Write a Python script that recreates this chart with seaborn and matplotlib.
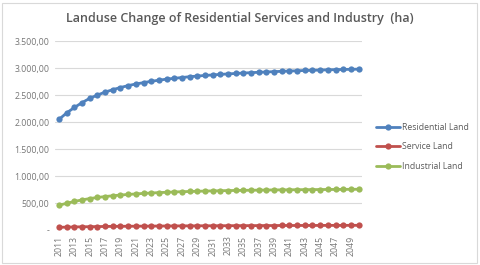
import numpy as np
import pandas as pd
import seaborn as sns
import matplotlib.pyplot as plt
from matplotlib.ticker import FuncFormatter
from matplotlib.patches import Rectangle

sns.set_style("white")
plt.rcParams['font.family'] = ['Open Sans', 'DejaVu Sans']

years = list(range(2011, 2051))
residential = [2050, 2170, 2270, 2360, 2440, 2500, 2555, 2600, 2640, 2675,
               2705, 2730, 2755, 2775, 2795, 2810, 2825, 2840, 2852, 2863,
               2873, 2883, 2892, 2900, 2908, 2915, 2922, 2928, 2934, 2940,
               2945, 2950, 2955, 2959, 2963, 2967, 2971, 2974, 2977, 2980]
service = [50, 54, 57, 60, 62, 64, 66, 68, 69, 70,
           71, 72, 73, 74, 75, 76, 77, 77, 78, 79,
           79, 80, 80, 81, 81, 82, 82, 83, 83, 84,
           84, 84, 85, 85, 85, 86, 86, 86, 87, 87]
industrial = [460, 495, 530, 558, 583, 603, 620, 635, 648, 659,
              669, 678, 686, 693, 699, 705, 710, 714, 718, 722,
              725, 728, 731, 733, 735, 737, 739, 741, 743, 744,
              745, 747, 748, 749, 750, 751, 752, 753, 754, 755]
series_names = ["Residential Land", "Service Land", "Industrial Land"]
colors = ["#4F81BD", "#C0504D", "#9BBB59"]

df = pd.DataFrame({
    "idx": list(range(len(years))) * 3,
    "value": residential + service + industrial,
    "series": np.repeat(series_names, len(years)),
})

fig = plt.figure(figsize=(4.8, 2.65), dpi=100)
ax = fig.add_axes([0.115, 0.132, 0.64, 0.713])

sns.lineplot(data=df, x="idx", y="value", hue="series", hue_order=series_names,
             palette=colors, marker="o", markersize=4.5, markeredgewidth=0,
             linewidth=2, ax=ax)

ax.set_xlim(-0.5, len(years) - 0.5)
ax.set_ylim(0, 3500)
ax.set_yticks(np.arange(0, 3501, 500))
ax.yaxis.set_major_formatter(FuncFormatter(
    lambda v, p: "-" if v == 0 else "{:,.2f}".format(v).replace(",", "X").replace(".", ",").replace("X", ".")))
ax.set_xticks(range(0, len(years), 2))
ax.set_xticklabels([str(y) for y in years[::2]], rotation=90)
ax.tick_params(axis='both', labelsize=6.3, colors="#767676", length=0, pad=4)
ax.grid(axis='y', color="#D9D9D9", linewidth=0.8)
ax.set_axisbelow(True)
for s in ax.spines.values():
    s.set_visible(False)
ax.set_xlabel("")
ax.set_ylabel("")

ax.legend(loc="center left", bbox_to_anchor=(1.02, 0.44), frameon=False,
          fontsize=6.2, labelcolor="#595959", handlelength=2.8, handletextpad=0.2,
          labelspacing=1.2)
for h in ax.get_legend().legend_handles:
    h.set_linewidth(2)

fig.suptitle("Landuse Change of Residential Services and Industry  (ha)",
             x=0.5, y=0.955, fontsize=9, fontweight="semibold", color="#595959")

fig.patches.append(Rectangle((0.004, 0.006), 0.99, 0.984, transform=fig.transFigure,
                             fill=False, edgecolor="#D9D9D9", linewidth=0.8))

fig.savefig("out.png", dpi=100)
